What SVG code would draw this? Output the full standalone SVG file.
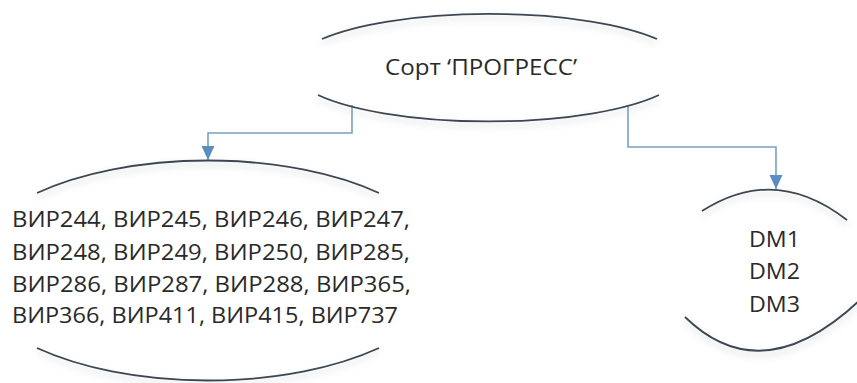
<svg xmlns="http://www.w3.org/2000/svg" width="857" height="383" viewBox="0 0 857 383">
  <defs>
    <filter id="sh" x="-10%" y="-50%" width="120%" height="200%">
      <feDropShadow dx="0" dy="4" stdDeviation="3.5" flood-color="#8a8f96" flood-opacity="0.4"/>
    </filter>
    <marker id="arr" markerWidth="15" markerHeight="14" refX="14" refY="7" orient="auto" markerUnits="userSpaceOnUse">
      <path d="M0,0.5 L14,7 L0,13.5 Z" fill="#5b8ec0"/>
    </marker>
    <style>
      .arc{fill:none;stroke:#3d4752;stroke-width:1.8;filter:url(#sh)}
      .t{font-family:"Open Sans","Noto Sans","DejaVu Sans",sans-serif;font-size:21px;fill:#2a2a2a}
      .c{fill:none;stroke:#7aa0c2;stroke-width:1.6}
    </style>
  </defs>
  <rect width="857" height="383" fill="#ffffff"/>

  <g id="connectors">
    <path class="c" d="M352,105 V133 H208 V160" marker-end="url(#arr)"/>
    <path class="c" d="M628,105 V147 H776 V189" marker-end="url(#arr)"/>
  </g>

  <g id="node-progress">
    <path class="arc" d="M322,39 A197,53 0 0 1 657,39"/>
    <path class="arc" d="M659,95 A197,53 0 0 1 318,95"/>
    <text class="t" x="385" y="75" textLength="192" lengthAdjust="spacingAndGlyphs">Сорт ‘ПРОГРЕСС’</text>
  </g>

  <g id="node-vir">
    <path class="arc" d="M37,193 A241,110 0 0 1 379,193"/>
    <path class="arc" d="M379,348 A241,110 0 0 1 37,348"/>
    <text class="t" x="12" y="227" textLength="398" lengthAdjust="spacingAndGlyphs">ВИР244, ВИР245, ВИР246, ВИР247,</text>
    <text class="t" x="12" y="260" textLength="398" lengthAdjust="spacingAndGlyphs">ВИР248, ВИР249, ВИР250, ВИР285,</text>
    <text class="t" x="12" y="292" textLength="399" lengthAdjust="spacingAndGlyphs">ВИР286, ВИР287, ВИР288, ВИР365,</text>
    <text class="t" x="12" y="323" textLength="386" lengthAdjust="spacingAndGlyphs">ВИР366, ВИР411, ВИР415, ВИР737</text>
  </g>

  <g id="node-dm">
    <path class="arc" d="M702,211 Q775,164 847,220"/>
    <path class="arc" d="M685,317 Q762,392 860,300"/>
    <text class="t" x="749" y="247" textLength="51" lengthAdjust="spacingAndGlyphs">DM1</text>
    <text class="t" x="749" y="279" textLength="51" lengthAdjust="spacingAndGlyphs">DM2</text>
    <text class="t" x="749" y="312" textLength="51" lengthAdjust="spacingAndGlyphs">DM3</text>
  </g>
</svg>
